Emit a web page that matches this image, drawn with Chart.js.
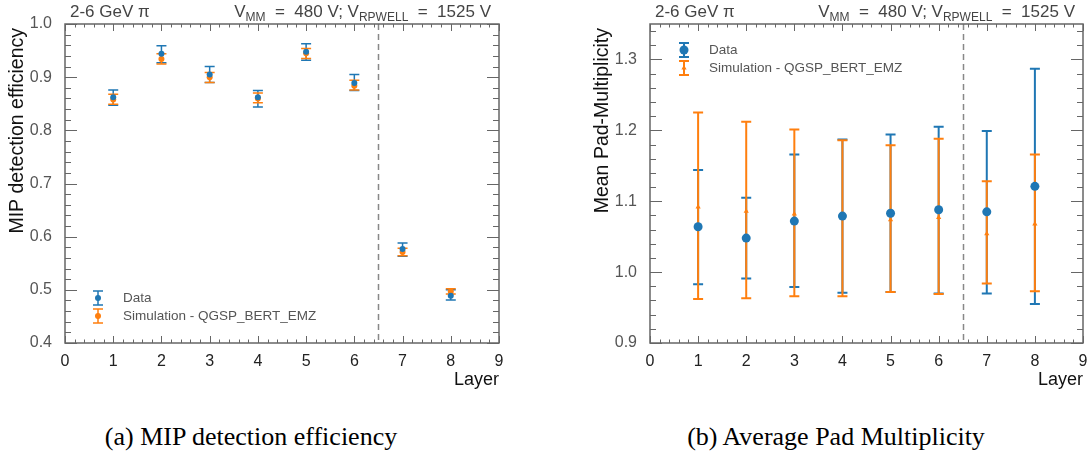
<html>

<head>
  <script src="https://cdn.jsdelivr.net/npm/chart.js@4.4.0/dist/chart.umd.min.js"></script>
  <style>
    body { margin: 0; background: #fff; width: 1092px; height: 459px; overflow: hidden; position: relative; }
    .panel { position: absolute; top: 0; width: 546px; height: 400px; }
    .cap { position: absolute; top: 422px; font-family: 'Liberation Serif', serif; font-size: 26px; color: #000; white-space: nowrap; transform: translateX(-50%); }
  </style>
</head>

<body>
  <div class="panel" style="left:0"><canvas id="effChart" width="546" height="400"></canvas></div>
  <div class="panel" style="left:546px"><canvas id="mulChart" width="546" height="400"></canvas></div>
  <div class="cap" style="left:251px">(a) MIP detection efficiency</div>
  <div class="cap" style="left:836px">(b) Average Pad Multiplicity</div>
</body>

<script>
  // layers
  const layers = [1, 2, 3, 4, 5, 6, 7, 8];

  // (a) MIP detection efficiency
  const effData = [0.862, 0.944, 0.905, 0.862, 0.948, 0.889, 0.577, 0.489];
  const effDataLo = [0.847, 0.927, 0.890, 0.844, 0.932, 0.875, 0.563, 0.481];
  const effDataHi = [0.876, 0.959, 0.920, 0.875, 0.963, 0.905, 0.588, 0.500];
  const effSim = [0.858, 0.934, 0.900, 0.860, 0.945, 0.884, 0.571, 0.497];
  const effSimLo = [0.849, 0.925, 0.890, 0.852, 0.935, 0.876, 0.564, 0.492];
  const effSimHi = [0.868, 0.944, 0.909, 0.870, 0.954, 0.894, 0.578, 0.502];

  // (b) mean pad multiplicity
  const mulData = [1.064, 1.048, 1.072, 1.079, 1.083, 1.088, 1.085, 1.121];
  const mulDataLo = [0.983, 0.991, 0.979, 0.971, 0.972, 0.970, 0.970, 0.955];
  const mulDataHi = [1.144, 1.105, 1.166, 1.187, 1.194, 1.205, 1.199, 1.287];
  const mulSim = [1.092, 1.086, 1.082, 1.076, 1.074, 1.077, 1.054, 1.068];
  const mulSimLo = [0.962, 0.963, 0.966, 0.966, 0.972, 0.969, 0.984, 0.973];
  const mulSimHi = [1.225, 1.212, 1.201, 1.186, 1.179, 1.188, 1.128, 1.166];

  const BLUE = '#1f77b4';
  const ORANGE = '#ff7f0e';
  const FRAME = '#666';
  const FONT = "'Liberation Sans', Arial, sans-serif";

  // draws error bars, frame, inward ticks, headers, legend
  const hepPlugin = {
    id: 'hep',
    beforeDatasetsDraw(chart) {
      const ctx = chart.ctx, xs = chart.scales.x, ys = chart.scales.y;
      const o = chart.options.plugins.hep;
      const a = chart.chartArea;
      // dashed separator
      ctx.save();
      ctx.strokeStyle = '#888';
      ctx.lineWidth = 1.5;
      ctx.setLineDash([6, 4]);
      const xd = Math.round(xs.getPixelForValue(o.sepAt)) + 0.5;
      ctx.beginPath(); ctx.moveTo(xd, a.top); ctx.lineTo(xd, a.bottom); ctx.stroke();
      ctx.restore();
      chart.data.datasets.forEach(ds => {
        ctx.save();
        ctx.strokeStyle = ds.borderColor;
        ctx.lineWidth = o.errWidth;
        ds.data.forEach((p, i) => {
          const x = xs.getPixelForValue(p.x);
          const y1 = ys.getPixelForValue(ds.errLo[i]);
          const y2 = ys.getPixelForValue(ds.errHi[i]);
          ctx.beginPath();
          ctx.moveTo(x, y1); ctx.lineTo(x, y2);
          ctx.moveTo(x - 5, y1); ctx.lineTo(x + 5, y1);
          ctx.moveTo(x - 5, y2); ctx.lineTo(x + 5, y2);
          ctx.stroke();
        });
        ctx.restore();
      });
    },
    afterDraw(chart) {
      const ctx = chart.ctx, xs = chart.scales.x, ys = chart.scales.y;
      const o = chart.options.plugins.hep;
      const a = chart.chartArea;
      ctx.save();
      // frame
      ctx.strokeStyle = FRAME;
      ctx.lineWidth = 1.5;
      ctx.strokeRect(a.left, a.top, a.right - a.left, a.bottom - a.top);
      ctx.lineWidth = 1;
      ctx.beginPath();
      // x ticks
      for (let i = 0; i <= 45; i++) {
        const v = xs.min + i * 0.2;
        if (v > xs.max + 1e-9) break;
        const px = Math.round(xs.getPixelForValue(v)) + 0.5;
        const len = i % 5 === 0 ? 7 : 3.5;
        ctx.moveTo(px, a.bottom); ctx.lineTo(px, a.bottom - len);
        ctx.moveTo(px, a.top); ctx.lineTo(px, a.top + len);
      }
      // y ticks
      for (let i = 0; i <= 100; i++) {
        const v = ys.min + i * 0.02;
        if (v > ys.max + 1e-9) break;
        const py = Math.round(ys.getPixelForValue(v)) + 0.5;
        const len = i % 5 === 0 ? 12 : 6;
        ctx.moveTo(a.left, py); ctx.lineTo(a.left + len, py);
        ctx.moveTo(a.right, py); ctx.lineTo(a.right - len, py);
      }
      ctx.stroke();

      // header left
      ctx.fillStyle = '#444';
      ctx.textBaseline = 'alphabetic';
      ctx.font = '17px ' + FONT;
      ctx.textAlign = 'left';
      ctx.fillText('2-6 GeV \u03c0', a.left + 5, 17);
      // header right with subscripts
      const parts = [
        ['V', 0], ['MM', 1], ['  =  480 V; V', 0], ['RPWELL', 1], ['  =  1525 V', 0]
      ];
      const wOf = p => { ctx.font = (p[1] ? '12px ' : '17px ') + FONT; return ctx.measureText(p[0]).width; };
      let tot = parts.reduce((s, p) => s + wOf(p), 0);
      let cx = a.right - 8 - tot;
      parts.forEach(p => {
        const w = wOf(p);
        ctx.fillText(p[0], cx, p[1] ? 21 : 17);
        cx += w;
      });

      // axis titles
      ctx.fillStyle = '#111';
      ctx.font = '18px ' + FONT;
      ctx.textAlign = 'right';
      ctx.textBaseline = 'middle';
      ctx.fillText(o.xTitle, a.right, 380);
      ctx.font = '19.5px ' + FONT;
      ctx.save();
      ctx.translate(o.yTitleX, a.top + 4);
      ctx.rotate(-Math.PI / 2);
      ctx.fillText(o.yTitle, 0, 0);
      ctx.restore();

      // legend
      ctx.font = '13.5px ' + FONT;
      ctx.textAlign = 'left';
      ctx.textBaseline = 'middle';
      chart.data.datasets.forEach((ds, k) => {
        const lx = o.legX, ly = o.legY + k * 18;
        ctx.strokeStyle = ds.borderColor;
        ctx.lineWidth = o.errWidth;
        ctx.beginPath();
        ctx.moveTo(lx, ly - 7); ctx.lineTo(lx, ly + 7);
        ctx.moveTo(lx - 5, ly - 7); ctx.lineTo(lx + 5, ly - 7);
        ctx.moveTo(lx - 5, ly + 7); ctx.lineTo(lx + 5, ly + 7);
        ctx.stroke();
        ctx.fillStyle = ds.backgroundColor;
        Chart.helpers.drawPoint(ctx, { pointStyle: ds.pointStyle, radius: ds.pointRadius, borderWidth: 0 }, lx, ly);
        ctx.fillStyle = '#555';
        ctx.fillText(ds.label, o.legX + 25, ly);
      });
      ctx.restore();
    }
  };

  function toPoints(ys) {
    return layers.map((l, i) => ({ x: l, y: ys[i] }));
  }

  function makeChart(id, cfg) {
    const ctx = document.getElementById(id).getContext('2d');
    return new Chart(ctx, {
      type: 'scatter',
      data: {
        datasets: [
          {
            label: 'Data',
            data: toPoints(cfg.data),
            errLo: cfg.dataLo, errHi: cfg.dataHi,
            borderColor: BLUE, backgroundColor: BLUE,
            pointStyle: 'circle', pointRadius: cfg.dataR, borderWidth: 0
          },
          {
            label: 'Simulation - QGSP_BERT_EMZ',
            data: toPoints(cfg.sim),
            errLo: cfg.simLo, errHi: cfg.simHi,
            borderColor: ORANGE, backgroundColor: ORANGE,
            pointStyle: cfg.simStyle, pointRadius: cfg.simR, borderWidth: 0
          }
        ]
      },
      options: {
        responsive: false,
        animation: false,
        layout: { padding: { left: 0, top: 24, right: cfg.padRight, bottom: 0 } },
        plugins: {
          legend: { display: false },
          tooltip: { enabled: false },
          hep: {
            sepAt: 6.5, errWidth: cfg.errWidth,
            xTitle: 'Layer', yTitle: cfg.yTitle, yTitleX: cfg.yTitleX,
            legX: cfg.legX, legY: cfg.legY
          }
        },
        scales: {
          x: {
            type: 'linear', min: 0, max: 9,
            grid: { display: false }, border: { display: false },
            ticks: { stepSize: 1, padding: 1, color: '#222', font: { family: FONT, size: 16 }, maxRotation: 0, autoSkip: false },
            afterFit: s => { s.height = 57; }
          },
          y: {
            type: 'linear', min: cfg.yMin, max: cfg.yMax,
            grid: { display: false }, border: { display: false },
            ticks: {
              stepSize: 0.1, includeBounds: false, padding: 5, color: '#555',
              font: { family: FONT, size: 16 },
              callback: v => v.toFixed(1)
            },
            afterFit: s => { s.width = cfg.yWidth; }
          }
        }
      },
      plugins: [hepPlugin]
    });
  }

  makeChart('effChart', {
    data: effData, dataLo: effDataLo, dataHi: effDataHi,
    sim: effSim, simLo: effSimLo, simHi: effSimHi,
    dataR: 3, simR: 3, simStyle: 'circle', errWidth: 1.5,
    yMin: 0.4, yMax: 1.0, yWidth: 65, padRight: 47,
    yTitle: 'MIP detection efficiency', yTitleX: 18,
    legX: 98, legY: 298
  });

  makeChart('mulChart', {
    data: mulData, dataLo: mulDataLo, dataHi: mulDataHi,
    sim: mulSim, simLo: mulSimLo, simHi: mulSimHi,
    dataR: 4.5, simR: 3, simStyle: 'triangle', errWidth: 2,
    yMin: 0.9, yMax: 1.35, yWidth: 104, padRight: 9,
    yTitle: 'Mean Pad-Multiplicity', yTitleX: 57,
    legX: 138, legY: 50
  });
</script>

</html>
